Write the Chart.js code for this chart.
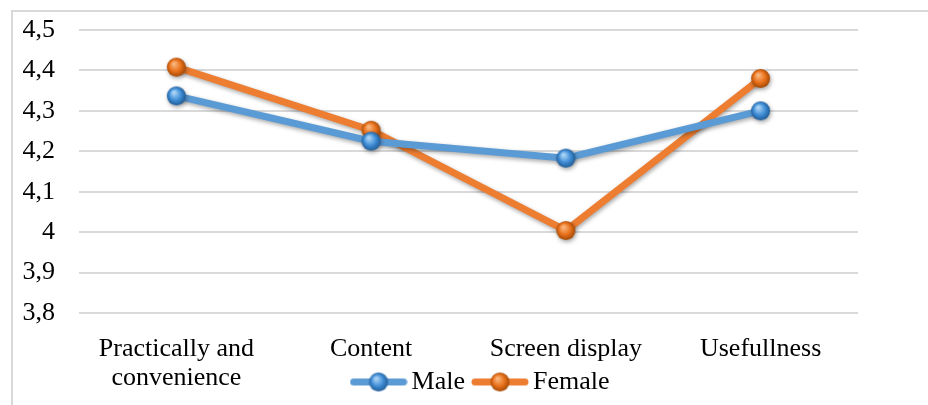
<!DOCTYPE html>
<html>
<head>
<meta charset="utf-8">
<script src="https://cdn.jsdelivr.net/npm/chart.js@4"></script>
<style>
  html, body { margin: 0; padding: 0; background: #fff; }
  #wrap { position: relative; width: 928px; height: 405px; overflow: hidden; }
  #frame { position: absolute; left: 11px; top: 10px; width: 940px; height: 420px;
           border-top: 2px solid #d9d9d9; border-left: 2px solid #d9d9d9; box-sizing: border-box; }
  canvas { position: absolute; left: 0; top: 0; }
</style>
</head>
<body>
<div id="wrap">
  <div id="frame"></div>
  <canvas id="chart" width="928" height="405"></canvas>
</div>
<script>
//chart data
var categories = [ ["Practically and", "convenience"], "Content", "Screen display", "Usefullness" ];
var maleValues = [ 4.337, 4.225, 4.183, 4.300 ];
var femaleValues = [ 4.408, 4.252, 4.004, 4.380 ];
var yTickLabels = [ "3,8", "3,9", "4", "4,1", "4,2", "4,3", "4,4", "4,5" ];

var SERIF = "'Liberation Serif', 'Times New Roman', serif";

//draw a shaded ball as point marker
makeBall = function( light, mid, dark ){
    var c = document.createElement("canvas");
    c.width = 21; c.height = 21;
    var ctx = c.getContext("2d");
    var g = ctx.createRadialGradient( 8, 7, 1, 10.5, 10.5, 10 );
    g.addColorStop( 0, light );
    g.addColorStop( 0.55, mid );
    g.addColorStop( 1, dark );
    ctx.fillStyle = g;
    ctx.beginPath();
    ctx.arc( 10.5, 10.5, 9.5, 0, Math.PI * 2 );
    ctx.fill();
    return c;
}

//legend marker: line with ball in the middle
makeLegendMark = function( lineColor, ball ){
    var c = document.createElement("canvas");
    c.width = 58; c.height = 21;
    var ctx = c.getContext("2d");
    ctx.strokeStyle = lineColor;
    ctx.lineWidth = 7;
    ctx.lineCap = "round";
    ctx.beginPath();
    ctx.moveTo( 4, 10.5 ); ctx.lineTo( 54, 10.5 );
    ctx.stroke();
    ctx.drawImage( ball, 18.5, 0 );
    return c;
}

var blueBall = makeBall( "#a9d3f5", "#3f8dd6", "#1d568f" );
var orangeBall = makeBall( "#f9b47a", "#e8701a", "#9c4606" );
var blueMark = makeLegendMark( "#5b9bd5", blueBall );
var orangeMark = makeLegendMark( "#ed7d31", orangeBall );

//soft shadow under lines and markers
var shadowPlugin = {
    id: "shadow",
    beforeDatasetsDraw: function( chart ){
        var ctx = chart.ctx;
        ctx.save();
        ctx.shadowColor = "rgba(0,0,0,0.35)";
        ctx.shadowBlur = 4;
        ctx.shadowOffsetX = 1;
        ctx.shadowOffsetY = 2;
    },
    afterDatasetsDraw: function( chart ){
        chart.ctx.restore();
    }
};

//let the category labels overlap the legend row like in the original
var overlapPlugin = {
    id: "overlap",
    afterLayout: function( chart ){
        chart.scales.x.bottom = chart.height;
        chart.legend.left += 55;
        chart.legend.right += 55;
    }
};

var chart = new Chart( document.getElementById("chart").getContext("2d"), {
    type: "line",
    data: {
        labels: categories,
        datasets: [{
            label: "Male",
            data: maleValues,
            borderColor: "#5b9bd5",
            borderWidth: 7,
            pointStyle: blueBall,
            pointRadius: 10,
            pointHoverRadius: 10,
            tension: 0
        },{
            label: "Female",
            data: femaleValues,
            borderColor: "#ed7d31",
            borderWidth: 7,
            pointStyle: orangeBall,
            pointRadius: 10,
            pointHoverRadius: 10,
            tension: 0
        }]
    },
    options: {
        responsive: false,
        animation: false,
        layout: { padding: { left: 0, right: 70, top: 0, bottom: 0 } },
        plugins: {
            tooltip: { enabled: false },
            legend: {
                position: "bottom",
                labels: {
                    usePointStyle: true,
                    pointStyleWidth: 40,
                    boxHeight: 21,
                    padding: 15,
                    color: "#000",
                    font: { family: SERIF, size: 26 },
                    generateLabels: function( chart ){
                        var marks = [ blueMark, orangeMark ];
                        return chart.data.datasets.map( function( ds, i ){
                            return { text: ds.label, pointStyle: marks[i], datasetIndex: i,
                                     fillStyle: ds.borderColor, strokeStyle: ds.borderColor,
                                     lineWidth: 0, hidden: false, fontColor: "#000" };
                        });
                    }
                }
            }
        },
        scales: {
            x: {
                offset: true,
                grid: { display: false, drawTicks: false },
                border: { display: false },
                ticks: { color: "#000", padding: 22, maxRotation: 0,
                         font: { family: SERIF, size: 26, lineHeight: 1.1 } },
                afterFit: function( scale ){ scale.height = 41; }
            },
            y: {
                min: 3.8,
                max: 4.5,
                grid: { color: "#d9d9d9", lineWidth: 2, drawTicks: false },
                border: { display: false },
                ticks: {
                    stepSize: 0.1,
                    color: "#000",
                    padding: 24,
                    font: { family: SERIF, size: 26, lineHeight: 0.46 },
                    callback: function( value, index ){ return yTickLabels[index]; }
                },
                afterFit: function( scale ){ scale.width = 79; }
            }
        }
    },
    plugins: [ shadowPlugin, overlapPlugin ]
});
</script>
</body>
</html>
